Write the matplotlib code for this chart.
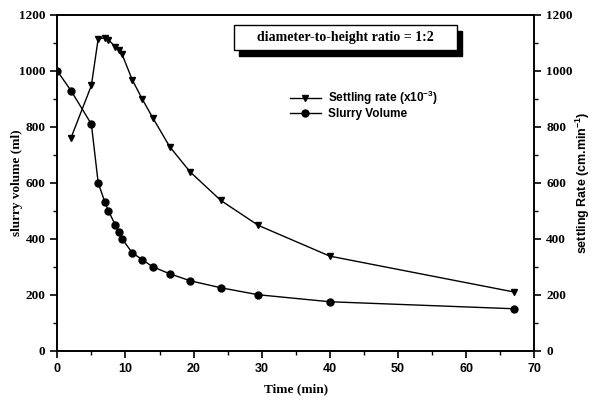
import numpy as np
import matplotlib
matplotlib.use("Agg")
import matplotlib.pyplot as plt
from matplotlib.ticker import MultipleLocator
from matplotlib.patches import Rectangle

plt.rcParams['mathtext.default'] = 'regular'

# data
vol_time = [0, 2, 5, 6, 7, 7.5, 8.5, 9, 9.5, 11, 12.5, 14, 16.5, 19.5, 24, 29.5, 40, 67]
slurry_volume = [1000, 930, 810, 600, 530, 500, 450, 425, 400, 350, 325, 300, 275, 250, 225, 200, 175, 150]

rate_time = [2, 5, 6, 7, 7.5, 8.5, 9, 9.5, 11, 12.5, 14, 16.5, 19.5, 24, 29.5, 40, 67]
settling_rate = [760, 948, 1115, 1118, 1112, 1086, 1076, 1060, 968, 898, 833, 729, 639, 537, 448, 338, 210]

x_ticks = [0, 10, 20, 30, 40, 50, 60, 70]
y_ticks = [0, 200, 400, 600, 800, 1000, 1200]

serif = 'Liberation Serif'
sans = 'Liberation Sans'

fig = plt.figure(figsize=(5.95, 4.01), dpi=100)
ax = fig.add_axes([0.0963, 0.1254, 0.8017, 0.8372])
ax2 = ax.twinx()

l1, = ax2.plot(rate_time, settling_rate, color='black', lw=1.0, marker='v',
               markersize=5, label='Settling rate (x10$^{-3}$)')
l2, = ax.plot(vol_time, slurry_volume, color='black', lw=1.0, marker='o',
              markersize=5, label='Slurry Volume')

for a in (ax, ax2):
    a.set_xlim(0, 70)
    a.set_ylim(0, 1200)
    a.set_yticks(y_ticks)
    a.yaxis.set_minor_locator(MultipleLocator(100))
    for s in a.spines.values():
        s.set_linewidth(1.2)

ax.set_xticks(x_ticks)
ax.xaxis.set_minor_locator(MultipleLocator(5))
ax.tick_params(axis='both', which='major', direction='out', length=5, width=1.2)
ax.tick_params(axis='both', which='minor', direction='out', length=3, width=1.0)
ax.tick_params(axis='x', which='both', top=False)
ax2.tick_params(axis='y', which='major', direction='out', length=5, width=1.2)
ax2.tick_params(axis='y', which='minor', direction='out', length=3, width=1.0)

ax.set_xticklabels([str(v) for v in x_ticks], fontfamily=sans, fontweight='bold', fontsize=9)
ax.set_yticklabels([str(v) for v in y_ticks], fontfamily=serif, fontweight='bold', fontsize=9.5)
ax2.set_yticklabels([str(v) for v in y_ticks], fontfamily=serif, fontweight='bold', fontsize=9.5)

ax.set_xlabel('Time (min)', fontfamily=serif, fontweight='bold', fontsize=9.5, labelpad=6)
ax.set_ylabel('slurry volume (ml)', fontfamily=serif, fontweight='bold', fontsize=9.5)
ax.yaxis.set_label_coords(-0.072, 0.5)
ax2.set_ylabel('settling Rate (cm.min$^{-1}$)', fontfamily=sans, fontweight='bold', fontsize=9)
ax2.yaxis.set_label_coords(1.082, 0.5)

leg = fig.legend(handles=[l1, l2], loc='upper left', bbox_to_anchor=(290 / 595, 1 - 89 / 401),
                 frameon=False, borderpad=0, borderaxespad=0, handlelength=2.6,
                 handletextpad=0.6, labelspacing=0.05,
                 prop={'family': sans, 'weight': 'bold', 'size': 8.5})

# boxed annotation with drop shadow
bx, by, bw, bh = 234 / 595, 1 - 50 / 401, 223 / 595, 25 / 401
dx, dy = 5 / 595, 6 / 401
fig.patches.append(Rectangle((bx + dx, by - dy), bw, bh, transform=fig.transFigure,
                             facecolor='black', edgecolor='black', zorder=5))
fig.patches.append(Rectangle((bx, by), bw, bh, transform=fig.transFigure,
                             facecolor='white', edgecolor='black', lw=1.0, zorder=6))
fig.text(bx + bw / 2, by + bh / 2, 'diameter-to-height ratio = 1:2', ha='center', va='center',
         fontfamily=serif, fontweight='bold', fontsize=10, zorder=7)

fig.savefig('out.png', dpi=100)
